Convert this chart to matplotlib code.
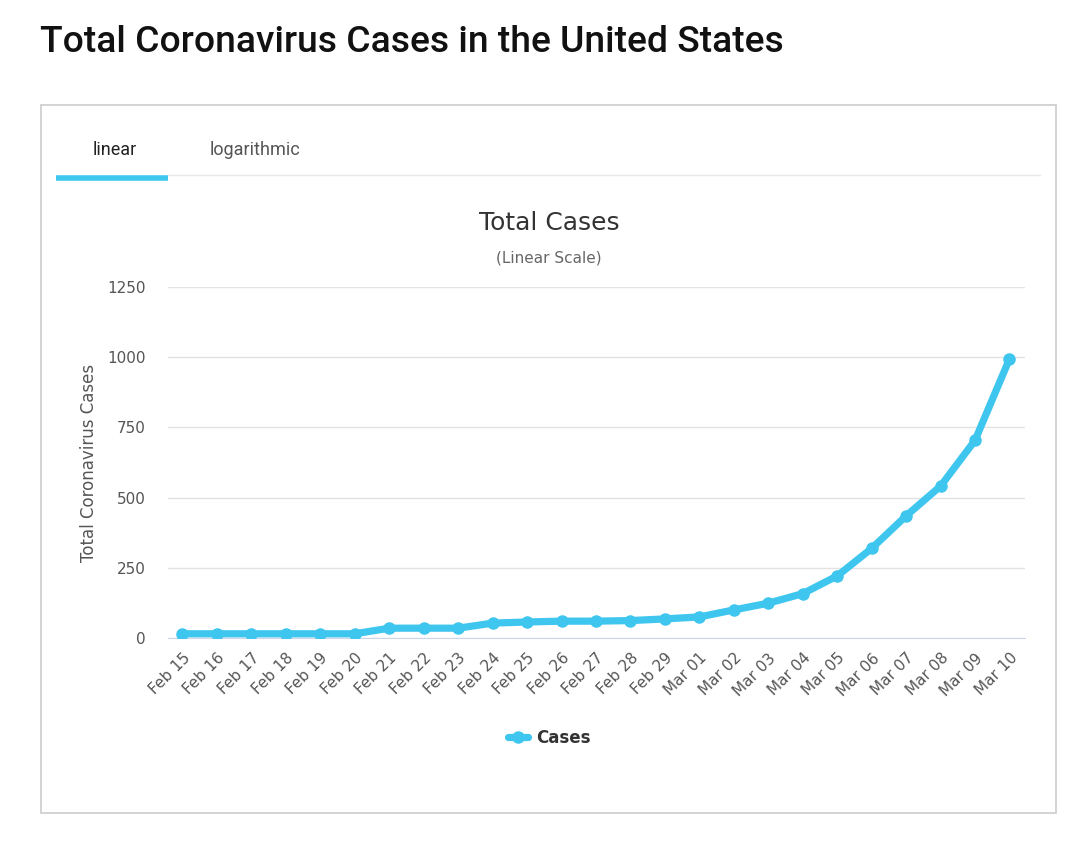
import matplotlib.pyplot as plt
import numpy as np

dates = ["Feb 15", "Feb 16", "Feb 17", "Feb 18", "Feb 19", "Feb 20", "Feb 21", "Feb 22",
         "Feb 23", "Feb 24", "Feb 25", "Feb 26", "Feb 27", "Feb 28", "Feb 29", "Mar 01",
         "Mar 02", "Mar 03", "Mar 04", "Mar 05", "Mar 06", "Mar 07", "Mar 08", "Mar 09", "Mar 10"]
cases = [15, 15, 15, 15, 15, 15, 35, 35, 35, 53, 57, 60, 60, 62, 68, 75,
         100, 124, 158, 221, 319, 435, 541, 704, 994]
yticks = [0, 250, 500, 750, 1000, 1250]

blue = "#3ec6ef"
fig = plt.figure(figsize=(10.8, 8.43), dpi=100)

# page title
fig.text(40 / 1080, 1 - 43 / 843, "Total Coronavirus Cases in the United States",
         fontsize=26.8, family="Roboto", fontweight="medium", color="#111111",
         ha="left", va="center")

# card frame
card = plt.Rectangle((41 / 1080, 1 - 813 / 843), (1056 - 41) / 1080, (813 - 105) / 843,
                     transform=fig.transFigure, fill=False, edgecolor="#cccccc", lw=1.2)
fig.add_artist(card)

# tabs
fig.text(115 / 1080, 1 - 150 / 843, "linear", fontsize=13, family="Roboto",
         color="#222222", ha="center", va="center")
fig.text(255 / 1080, 1 - 150 / 843, "logarithmic", fontsize=13, family="Roboto",
         color="#555555", ha="center", va="center")
fig.add_artist(plt.Line2D([168 / 1080, 1040 / 1080], [1 - 175 / 843] * 2,
                          transform=fig.transFigure, color="#e8e8e8", lw=1))
fig.add_artist(plt.Line2D([56 / 1080, 168 / 1080], [1 - 178 / 843] * 2,
                          transform=fig.transFigure, color=blue, lw=4, solid_capstyle="butt"))

# chart titles
fig.text(549 / 1080, 1 - 223 / 843, "Total Cases", fontsize=18, color="#333333",
         ha="center", va="center")
fig.text(549 / 1080, 1 - 258 / 843, "(Linear Scale)", fontsize=11, color="#666666",
         ha="center", va="center")

ax = fig.add_axes([168 / 1080, 1 - 638 / 843, (1025 - 168) / 1080, (638 - 287) / 843])
x = np.arange(len(cases))
ax.plot(x, cases, color=blue, lw=5.2, marker="o", ms=8, label="Cases",
        solid_joinstyle="round", solid_capstyle="round", zorder=3)

ax.set_xlim(-0.42, len(cases) - 1 + 0.45)
ax.set_ylim(0, 1250)
ax.set_yticks(yticks)
ax.set_yticklabels([str(v) for v in yticks], fontsize=11, color="#555555")
ax.set_xticks(x)
ax.set_xticklabels(dates, rotation=45, ha="right", rotation_mode="anchor",
                   fontsize=11, color="#555555")
ax.tick_params(axis="both", length=0)
ax.tick_params(axis="y", pad=16)
ax.tick_params(axis="x", pad=9)
ax.grid(axis="y", color="#e3e3e3", lw=1)
ax.set_axisbelow(True)
for s in ["top", "right", "left"]:
    ax.spines[s].set_visible(False)
ax.spines["bottom"].set_color("#ccd6eb")

ax.set_ylabel("Total Coronavirus Cases", fontsize=12, color="#555555", labelpad=7)

fig.legend(loc="center", bbox_to_anchor=(549 / 1080, 1 - 738 / 843), frameon=False,
           prop={"weight": "bold", "size": 12}, handlelength=1.2, handletextpad=0.5,
           labelcolor="#333333")

fig.savefig("out.png", dpi=100)
